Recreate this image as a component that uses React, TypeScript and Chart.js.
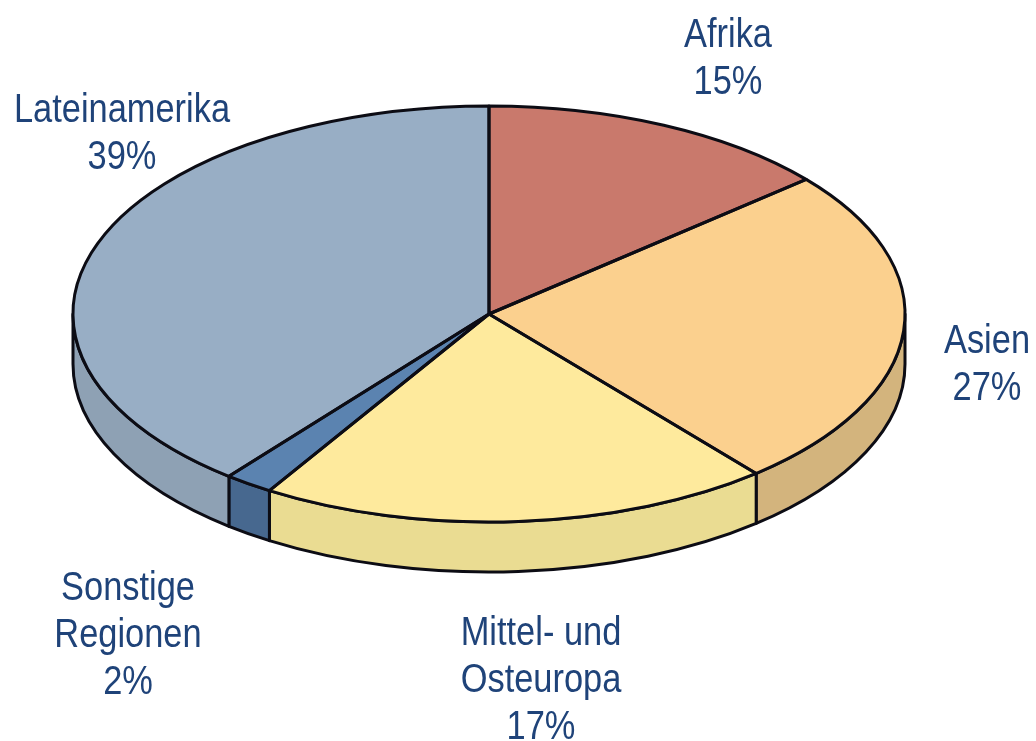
import React, { useEffect, useRef } from "react";
import { Chart, registerables } from "chart.js";

Chart.register(...registerables);

const categories = ["Afrika", "Asien", "Mittel- und Osteuropa", "Sonstige Regionen", "Lateinamerika"];
// The percentages printed on the reference.
const statedPercent = [15, 27, 17, 2, 39];
// The slice sizes as actually drawn in the reference (they differ a little from the printed figures).
const drawnShare = [13.8, 25.1, 19.95, 1.9, 39.25];
const topColors = ["#c9796c", "#fbd08e", "#feea9d", "#5b83b0", "#98aec5"];
const wallColors = ["#a8645a", "#d3b47d", "#eadc92", "#47688f", "#8ea1b4"];
const labelLines = [["Afrika"], ["Asien"], ["Mittel- und", "Osteuropa"], ["Sonstige", "Regionen"], ["Lateinamerika"]];

const W = 1036;
const H = 741;
const ELLIPSE = { cx: 489, cy: 314, rx: 416, ry: 208, depth: 50 };
const LABEL_ANCHOR = [
  { x: 728, y: 47 },
  { x: 987, y: 353 },
  { x: 541, y: 645 },
  { x: 128, y: 600 },
  { x: 122, y: 122 },
];
const LINE_STEP = 47;
const TEXT = "#1f4379";
const LINE = "#0c0c14";
const LINE_WIDTH = 3;
const TEXT_SQUEEZE = 0.86;

const pie3d = {
  id: "pie3d",
  beforeDatasetsDraw(chart: any) {
    const ctx = chart.ctx;
    const { cx, cy, rx, ry, depth } = ELLIPSE;
    const arcs = chart.getDatasetMeta(0).data;
    ctx.save();
    ctx.lineWidth = LINE_WIDTH;
    ctx.strokeStyle = LINE;
    ctx.lineJoin = "round";
    arcs.forEach((a: any, i: number) => {
      // keep only the part of each slice on the near (lower) half of the ellipse
      const ranges = [[0, Math.PI], [2 * Math.PI, 3 * Math.PI]];
      ranges.forEach(([lo, hi]) => {
        const s = Math.max(a.startAngle, lo);
        const e = Math.min(a.endAngle, hi);
        if (e <= s) return;
        ctx.beginPath();
        ctx.ellipse(cx, cy, rx, ry, 0, s, e);
        ctx.ellipse(cx, cy + depth, rx, ry, 0, e, s, true);
        ctx.closePath();
        ctx.fillStyle = wallColors[i];
        ctx.fill();
        ctx.stroke();
      });
    });
    ctx.restore();

    const a0 = arcs[0];
    ctx.save();
    ctx.translate(cx, cy);
    ctx.scale(rx / a0.outerRadius, ry / a0.outerRadius);
    ctx.translate(-a0.x, -a0.y);
  },
  afterDatasetsDraw(chart: any) {
    const ctx = chart.ctx;
    ctx.restore();
    const { cx, cy, rx, ry } = ELLIPSE;
    const arcs = chart.getDatasetMeta(0).data;
    ctx.save();
    ctx.lineWidth = LINE_WIDTH;
    ctx.strokeStyle = LINE;
    ctx.lineJoin = "round";
    arcs.forEach((a: any) => {
      ctx.beginPath();
      ctx.moveTo(cx, cy);
      ctx.ellipse(cx, cy, rx, ry, 0, a.startAngle, a.endAngle);
      ctx.closePath();
      ctx.stroke();
    });
    ctx.fillStyle = TEXT;
    ctx.font = '40px "Liberation Sans Narrow", "Liberation Sans", sans-serif';
    ctx.textAlign = "center";
    ctx.textBaseline = "alphabetic";
    categories.forEach((_, i) => {
      const lines = [...labelLines[i], `${statedPercent[i]}%`];
      lines.forEach((t, k) => {
        ctx.save();
        ctx.translate(LABEL_ANCHOR[i].x, LABEL_ANCHOR[i].y + k * LINE_STEP);
        ctx.scale(TEXT_SQUEEZE, 1);
        ctx.fillText(t, 0, 0);
        ctx.restore();
      });
    });
    ctx.restore();
  },
};

export default function App() {
  const ref = useRef<HTMLCanvasElement>(null);
  useEffect(() => {
    const chart = new Chart(ref.current as HTMLCanvasElement, {
      type: "pie",
      data: {
        labels: categories,
        datasets: [{ data: drawnShare, backgroundColor: topColors, borderWidth: 0, hoverOffset: 0 }],
      },
      options: {
        responsive: false,
        animation: false,
        events: [],
        plugins: { legend: { display: false }, tooltip: { enabled: false } },
      },
      plugins: [pie3d],
    } as any);
    return () => chart.destroy();
  }, []);
  return (
    <canvas
      ref={ref}
      width={W}
      height={H}
      style={{ position: "absolute", left: 0, top: 0, width: W, height: H, background: "#fff" }}
    />
  );
}
